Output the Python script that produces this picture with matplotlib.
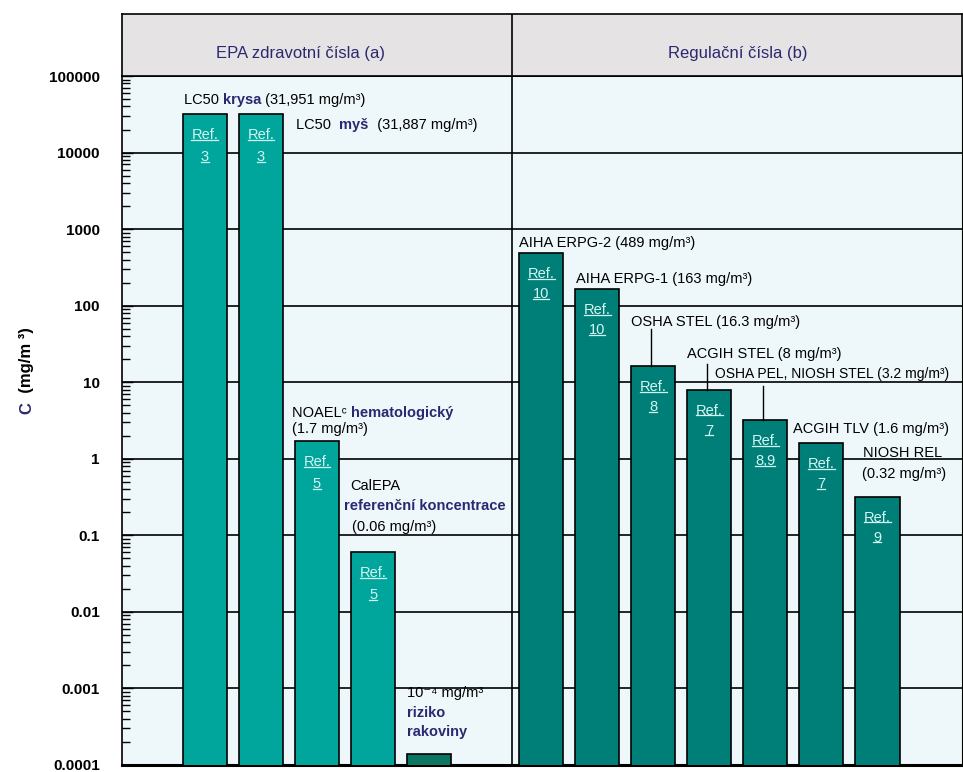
import numpy as np
import matplotlib.pyplot as plt
from matplotlib.lines import Line2D
from matplotlib.ticker import LogLocator, NullFormatter

plt.rcParams['font.family'] = ['Liberation Sans', 'DejaVu Sans']

# Data (mg/m3)
epa_values = [31951, 31887, 1.7, 0.06, 1.3e-4]
epa_refs = ['3', '3', '5', '5', '']
reg_values = [489, 163, 16.3, 8, 3.2, 1.6, 0.32]
reg_refs = ['10', '10', '8', '7', '8,9', '7', '9']

y_ticks = [1e-4, 1e-3, 1e-2, 1e-1, 1, 10, 100, 1000, 10000, 100000]
y_tick_labels = ['0.0001', '0.001', '0.01', '0.1', '1', '10', '100', '1000', '10000', '100000']

header_left = 'EPA zdravotní čísla (a)'
header_right = 'Regulační čísla (b)'

# annotation texts: list of lines, each line a list of (text, bold) pieces
epa_notes = [
    [[('LC50 ', False), ('krysa', True), (' (31,951 mg/m³)', False)]],
    [[('LC50  ', False), ('myš', True), ('  (31,887 mg/m³)', False)]],
    [[('NOAELᶜ ', False), ('hematologický', True)], [('(1.7 mg/m³)', False)]],
    [[('CalEPA', False)], [('referenční koncentrace', True)], [('(0.06 mg/m³)', False)]],
    [[('10⁻⁴ mg/m³', False)], [('riziko', True)], [('rakoviny', True)]],
]
reg_notes = [
    'AIHA ERPG-2 (489 mg/m³)',
    'AIHA ERPG-1 (163 mg/m³)',
    'OSHA STEL (16.3 mg/m³)',
    'ACGIH STEL (8 mg/m³)',
    'OSHA PEL, NIOSH STEL (3.2 mg/m³)',
    'ACGIH TLV (1.6 mg/m³)',
    ['NIOSH REL', '(0.32 mg/m³)'],
]

# style
W, H = 963, 772
light_teal = '#00a69c'
dark_teal = '#007f78'
navy = '#2b2870'
ref_color = '#d4f6f4'
bar_w = 0.79
fs = 10.5


def px_rect(l, t, r, b):
    return [l / W, 1 - b / H, (r - l) / W, (b - t) / H]


fig = plt.figure(figsize=(W / 100, H / 100), dpi=100)
ax = fig.add_axes(px_rect(122, 76, 962, 765))
hx = fig.add_axes(px_rect(122, 14, 962, 76))

epa_x = np.arange(len(epa_values))
reg_x = np.arange(len(reg_values)) + len(epa_values) + 1
divider = 5.48

ax.set_yscale('log')
ax.set_facecolor('#eef8fb')
epa_colors = [light_teal] * 4 + ['#0b7763']
ax.bar(epa_x, epa_values, width=bar_w, bottom=1e-5, color=epa_colors,
       edgecolor='black', linewidth=1.2, zorder=3)
ax.bar(reg_x, reg_values, width=bar_w, bottom=1e-5, color=dark_teal,
       edgecolor='black', linewidth=1.2, zorder=3)

ax.set_xlim(-1.48, 13.51)
ax.set_ylim(1e-4, 1e5)
ax.set_xticks([])
ax.set_yticks(y_ticks, labels=y_tick_labels, fontsize=11, fontweight='bold')
ax.yaxis.set_minor_locator(LogLocator(base=10, subs=np.arange(2, 10), numticks=20))
ax.yaxis.set_minor_formatter(NullFormatter())
ax.tick_params(axis='y', which='major', direction='in', length=8, width=1, pad=16)
ax.tick_params(axis='y', which='minor', direction='in', length=6, width=1)
ax.grid(True, axis='y', which='major', color='black', linewidth=1.2, zorder=1)
ax.set_axisbelow(True)
ax.axvline(divider, color='black', linewidth=1.2, zorder=2)
for s in ['left', 'top']:
    ax.spines[s].set_linewidth(1.2)
ax.spines['bottom'].set_linewidth(2.2)
ax.spines['right'].set_linewidth(0.8)

# header band
hx.set_facecolor('#e5e3e3')
hx.set_xlim(ax.get_xlim())
hx.set_ylim(0, 1)
hx.set_xticks([])
hx.set_yticks([])
hx.axvline(divider, color='black', linewidth=1.2)
for s in hx.spines.values():
    s.set_linewidth(1.2)
hx.text(0.213, 0.37, header_left, transform=hx.transAxes, ha='center', va='center',
        fontsize=12, color=navy)
hx.text(0.733, 0.37, header_right, transform=hx.transAxes, ha='center', va='center',
        fontsize=12, color=navy)


def piece_style(bold, size=fs):
    if bold:
        return dict(fontsize=size, fontweight='bold', color=navy)
    return dict(fontsize=size, color='black')


def chain(x, y, dx, dy, pieces, size=fs):
    t = ax.annotate(pieces[0][0], xy=(x, y), xytext=(dx, dy), textcoords='offset pixels',
                    ha='left', va='center', zorder=5, **piece_style(pieces[0][1], size))
    for txt, bold in pieces[1:]:
        t = ax.annotate(txt, xy=(1, 0), xycoords=t, ha='left', va='bottom', zorder=5,
                        **piece_style(bold, size))


# EPA notes (offsets in pixels from bar corner)
epa_anchor = ['left', 'right', 'left', 'left', 'left']
epa_offsets = [[(1, 14)], [(13, -11)], [(-3, 28), (-3, 12)],
               [(-1, 66), (-7, 46), (1, 25)], [(0, 63), (0, 43), (0, 24)]]
for i, (x, v) in enumerate(zip(epa_x, epa_values)):
    bx = x - bar_w / 2 if epa_anchor[i] == 'left' else x + bar_w / 2
    for line, (dx, dy) in zip(epa_notes[i], epa_offsets[i]):
        chain(bx, v, dx, dy, line)

# regulatory notes
reg_offsets = [[(0, 10)], [(1, 10)], [(0, 44)], [(0, 36)], [(-28, 46)], [(-6, 14)],
               [(8, 44), (7, 23)]]
reg_sizes = [fs, fs, fs, fs, 10, fs, fs]
reg_leaders = [0, 0, 37, 26, 34, 0, 0]
for i, (x, v) in enumerate(zip(reg_x, reg_values)):
    lines = reg_notes[i] if isinstance(reg_notes[i], list) else [reg_notes[i]]
    for line, (dx, dy) in zip(lines, reg_offsets[i]):
        chain(x - bar_w / 2, v, dx, dy, [(line, False)], reg_sizes[i])
    if reg_leaders[i]:
        # vertical leader from the bar top up towards the label
        lx = x - 0.04
        px = ax.transData.transform((lx, v))
        top = ax.transData.inverted().transform((px[0], px[1] + reg_leaders[i]))[1]
        ax.plot([lx, lx], [v, top], color='black', linewidth=1, zorder=4)

# "Ref." labels inside bars
ref_texts = []
for xs, vals, refs, n_off in [(epa_x, epa_values, epa_refs, -43), (reg_x, reg_values, reg_refs, -41)]:
    for x, v, r in zip(xs, vals, refs):
        if not r:
            continue
        for txt, dy in [('Ref.', -21), (r, n_off)]:
            t = ax.annotate(txt, xy=(x, v), xytext=(0, dy), textcoords='offset pixels',
                            ha='center', va='center', fontsize=fs, color=ref_color, zorder=5)
            ref_texts.append(t)

# y label
yl = fig.text(27 / W, 1 - 414 / H, 'C', rotation=90, ha='center', va='bottom',
              fontsize=12, fontweight='bold', color=navy)
ax.annotate('  (mg/m ³)', xy=(0.5, 1), xycoords=yl, rotation=90, ha='center', va='bottom',
            fontsize=12, fontweight='bold', color='black', annotation_clip=False)

# underline the Ref. labels
fig.canvas.draw()
renderer = fig.canvas.get_renderer()
for t in ref_texts:
    bb = t.get_window_extent(renderer)
    y = bb.y0 + 2.2
    fig.add_artist(Line2D([bb.x0 / W, bb.x1 / W], [y / H, y / H], transform=fig.transFigure,
                          color=ref_color, linewidth=0.9, zorder=6))

fig.savefig('out.png', dpi=100)
